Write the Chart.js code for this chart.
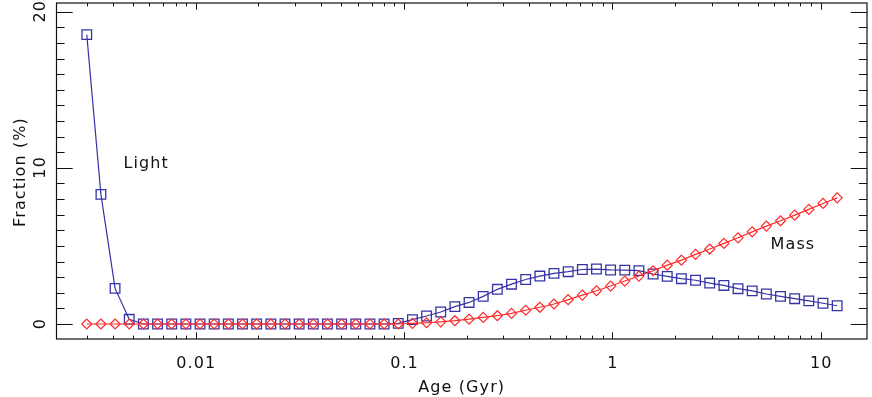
<!DOCTYPE html>
<html>
<head>
<meta charset="utf-8">
<script src="https://cdn.jsdelivr.net/npm/chart.js@4/dist/chart.umd.min.js"></script>
<style>
  html, body { margin: 0; padding: 0; background: #ffffff; }
  #wrap { width: 872px; height: 397px; }
</style>
</head>
<body>
<div id="wrap"><canvas id="c" width="872" height="397"></canvas></div>
<script>
// ---- data ----
const ages = [
  0.003000, 0.003508, 0.004102, 0.004797, 0.005610, 0.006560, 0.007672, 0.008971,
  0.010491, 0.012268, 0.014346, 0.016777, 0.019619, 0.022942, 0.026829, 0.031374,
  0.036689, 0.042905, 0.050174, 0.058674, 0.068613, 0.080238, 0.093830, 0.10973,
  0.12832, 0.15006, 0.17548, 0.20521, 0.23997, 0.28063, 0.32817, 0.38377,
  0.44878, 0.52481, 0.61372, 0.71768, 0.83927, 0.98120, 1.1473, 1.3417,
  1.5690, 1.8348, 2.1456, 2.5091, 2.9342, 3.4312, 4.0125, 4.6922,
  5.4871, 6.4166, 7.5036, 8.7748, 10.261, 12.000
];
const lightFrac = [
  18.53, 8.30, 2.28, 0.30, 0, 0, 0, 0,
  0, 0, 0, 0, 0, 0, 0, 0,
  0, 0, 0, 0, 0, 0, 0.04, 0.28,
  0.51, 0.77, 1.11, 1.38, 1.77, 2.22, 2.55, 2.85,
  3.07, 3.24, 3.35, 3.49, 3.52, 3.46, 3.45, 3.42,
  3.20, 3.05, 2.90, 2.80, 2.62, 2.47, 2.26, 2.12,
  1.92, 1.77, 1.62, 1.48, 1.33, 1.17
];
const massFrac = [
  0, 0, 0, 0, 0, 0, 0, 0,
  0, 0, 0, 0, 0, 0, 0, 0,
  0, 0, 0, 0, 0, 0, 0, 0.04,
  0.08, 0.14, 0.21, 0.31, 0.42, 0.53, 0.68, 0.88,
  1.07, 1.28, 1.56, 1.85, 2.13, 2.43, 2.75, 3.07,
  3.41, 3.77, 4.09, 4.46, 4.80, 5.16, 5.52, 5.90,
  6.27, 6.61, 6.97, 7.34, 7.72, 8.08
];
const xMajorTicks = [0.01, 0.1, 1, 10];
const xTickLabels = ['0.01', '0.1', '1', '10'];
const xMinorTicks = [0.003, 0.004, 0.005, 0.006, 0.007, 0.008, 0.009,
                     0.02, 0.03, 0.04, 0.05, 0.06, 0.07, 0.08, 0.09,
                     0.2, 0.3, 0.4, 0.5, 0.6, 0.7, 0.8, 0.9,
                     2, 3, 4, 5, 6, 7, 8, 9];
const yMajorTicks = [0, 10, 20];
const yTickLabels = ['0', '10', '20'];
const yMinorTicks = [1, 2, 3, 4, 5, 6, 7, 8, 9, 11, 12, 13, 14, 15, 16, 17, 18, 19];
const xTitle = 'Age (Gyr)';
const yTitle = 'Fraction (%)';
const seriesNames = ['Light', 'Mass'];
// text annotations, anchored in data coordinates (left / baseline)
const annotations = [
  { text: 'Light', age: 0.0045, frac: 10.0 },
  { text: 'Mass', age: 5.75, frac: 4.8 }
];

const BLUE = '#3434a6';
const RED = '#ff2a2a';
const INK = '#111111';
const FONT = '16px "DejaVu Sans", "Liberation Sans", sans-serif';

const idlAxes = {
  id: 'idlAxes',
  beforeDraw(chart) {
    const ctx = chart.ctx;
    ctx.save();
    ctx.fillStyle = '#ffffff';
    ctx.fillRect(0, 0, chart.width, chart.height);
    ctx.restore();
  },
  afterDraw(chart) {
    const ctx = chart.ctx;
    const a = chart.chartArea;
    const xs = chart.scales.x, ys = chart.scales.y;
    const xMaj = 0.02 * (a.bottom - a.top), xMin = xMaj / 2;
    const yMaj = 0.02 * (a.right - a.left), yMin = yMaj / 2;
    ctx.save();
    ctx.strokeStyle = INK;
    ctx.lineWidth = 1.2;
    ctx.strokeRect(a.left, a.top, a.right - a.left, a.bottom - a.top);
    ctx.lineWidth = 1;
    ctx.beginPath();
    const vt = (v, len) => {
      const px = Math.round(xs.getPixelForValue(v)) + 0.5;
      ctx.moveTo(px, a.bottom); ctx.lineTo(px, a.bottom - len);
      ctx.moveTo(px, a.top); ctx.lineTo(px, a.top + len);
    };
    const ht = (v, len) => {
      const py = Math.round(ys.getPixelForValue(v)) + 0.5;
      ctx.moveTo(a.left, py); ctx.lineTo(a.left + len, py);
      ctx.moveTo(a.right, py); ctx.lineTo(a.right - len, py);
    };
    xMajorTicks.forEach(v => vt(v, xMaj));
    xMinorTicks.forEach(v => vt(v, xMin));
    yMajorTicks.forEach(v => ht(v, yMaj));
    yMinorTicks.forEach(v => ht(v, yMin));
    ctx.stroke();

    ctx.fillStyle = INK;
    ctx.font = FONT;
    try { ctx.letterSpacing = '1.1px'; } catch (e) {}
    ctx.textBaseline = 'alphabetic';
    // x tick labels
    ctx.textAlign = 'center';
    xMajorTicks.forEach((v, i) => {
      ctx.fillText(xTickLabels[i], xs.getPixelForValue(v) + 0.5, a.bottom + 28.7);
    });
    // x title
    ctx.fillText(xTitle, (a.left + a.right) / 2, a.bottom + 52.7);
    // y tick labels (rotated)
    yMajorTicks.forEach((v, i) => {
      ctx.save();
      ctx.translate(a.left - 11.5, ys.getPixelForValue(v));
      ctx.rotate(-Math.PI / 2);
      ctx.fillText(yTickLabels[i], 0.5, 0);
      ctx.restore();
    });
    // y title
    ctx.save();
    ctx.translate(a.left - 31.5, (a.top + a.bottom) / 2 + 1);
    ctx.rotate(-Math.PI / 2);
    ctx.fillText(yTitle, 0, 0);
    ctx.restore();
    // annotations
    ctx.textAlign = 'left';
    annotations.forEach(t => {
      ctx.fillText(t.text, xs.getPixelForValue(t.age), ys.getPixelForValue(t.frac));
    });
    ctx.restore();
  }
};

new Chart(document.getElementById('c'), {
  type: 'line',
  data: {
    datasets: [
      {
        label: seriesNames[0],
        data: ages.map((x, i) => ({ x, y: lightFrac[i] })),
        borderColor: BLUE,
        borderWidth: 1.2,
        pointStyle: 'rect',
        pointRadius: 6.8,
        pointBorderWidth: 1.3,
        pointBorderColor: BLUE,
        pointBackgroundColor: 'rgba(0,0,0,0)',
        tension: 0,
        fill: false,
        order: 1
      },
      {
        label: seriesNames[1],
        data: ages.map((x, i) => ({ x, y: massFrac[i] })),
        borderColor: RED,
        borderWidth: 1.2,
        pointStyle: 'rectRot',
        pointRadius: 5,
        pointBorderWidth: 1.2,
        pointBorderColor: RED,
        pointBackgroundColor: 'rgba(0,0,0,0)',
        tension: 0,
        fill: false,
        order: 0
      }
    ]
  },
  options: {
    responsive: false,
    animation: false,
    devicePixelRatio: 1,
    layout: { autoPadding: false, padding: { top: 3, right: 5, bottom: 0, left: 0 } },
    plugins: { legend: { display: false }, tooltip: { enabled: false } },
    scales: {
      x: {
        type: 'logarithmic',
        min: 0.002147,
        max: 16.69,
        grid: { display: false, drawTicks: false },
        border: { display: false },
        ticks: { display: false },
        afterFit: s => { s.height = 58; }
      },
      y: {
        type: 'linear',
        min: -0.961,
        max: 20.557,
        grid: { display: false, drawTicks: false },
        border: { display: false },
        ticks: { display: false },
        afterFit: s => { s.width = 56.5; }
      }
    }
  },
  plugins: [idlAxes]
});
</script>
</body>
</html>
